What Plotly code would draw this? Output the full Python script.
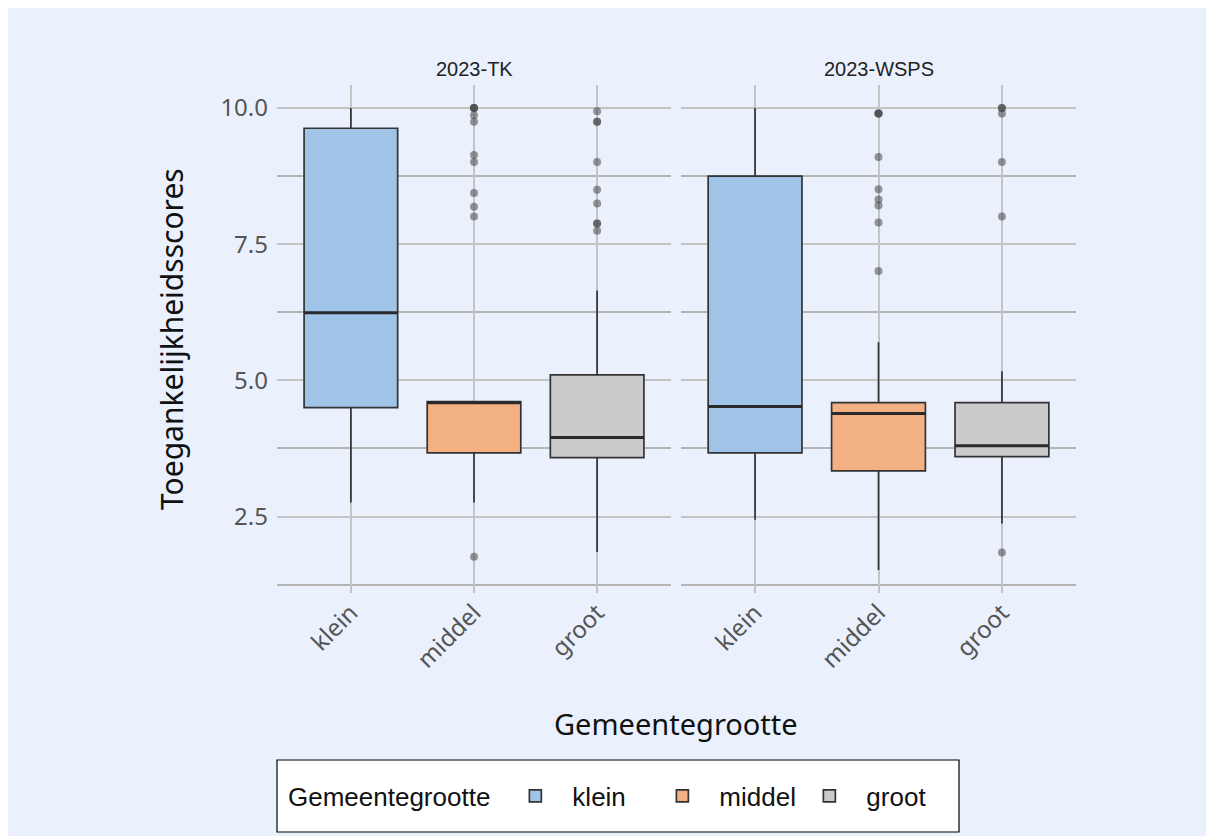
import plotly.graph_objects as go

categories = ["klein", "middel", "groot"]
facets = ["2023-TK", "2023-WSPS"]

# 2023-TK box statistics (klein, middel, groot)
tk_lowerfence = [2.76, 2.76, 1.85]
tk_q1 = [4.50, 3.67, 3.58]
tk_median = [6.24, 4.59, 3.95]
tk_q3 = [9.63, 4.61, 5.10]
tk_upperfence = [10.0, 4.62, 6.65]
tk_out_klein = []
tk_out_middel = [10.0, 10.0, 10.0, 9.87, 9.75, 9.14, 9.01, 8.44, 8.19, 8.01, 1.76]
tk_out_groot = [9.94, 9.75, 9.75, 9.01, 8.50, 8.25, 7.88, 7.88, 7.75]

# 2023-WSPS box statistics (klein, middel, groot)
wsps_lowerfence = [2.44, 1.52, 2.37]
wsps_q1 = [3.67, 3.34, 3.60]
wsps_median = [4.52, 4.39, 3.80]
wsps_q3 = [8.75, 4.59, 4.59]
wsps_upperfence = [10.0, 5.70, 5.17]
wsps_out_klein = []
wsps_out_middel = [9.90, 9.90, 9.90, 9.10, 8.51, 8.32, 8.21, 7.90, 7.01]
wsps_out_groot = [10.0, 10.0, 9.90, 9.01, 8.01, 1.84]

y_ticks = [2.5, 5.0, 7.5, 10.0]
y_tick_labels = ["2.5", "5.0", "7.5", "10.0"]
y_minor = [1.25, 3.75, 6.25, 8.75]

fills = ["#9FC4E8", "#F3B083", "#CBCBCB"]
bg = "#EAF1FD"
font_main = "Noto Sans"

stats = [
    (tk_lowerfence, tk_q1, tk_median, tk_q3, tk_upperfence, [tk_out_klein, tk_out_middel, tk_out_groot]),
    (wsps_lowerfence, wsps_q1, wsps_median, wsps_q3, wsps_upperfence, [wsps_out_klein, wsps_out_middel, wsps_out_groot]),
]

fig = go.Figure()
for f, (lf, q1, med, q3, uf, outs) in enumerate(stats):
    xa = "x" if f == 0 else "x2"
    for i, cat in enumerate(categories):
        fig.add_trace(go.Box(
            x=[cat], q1=[q1[i]], median=[med[i]], q3=[q3[i]],
            lowerfence=[lf[i]], upperfence=[uf[i]],
            name=cat, legendgroup=cat, showlegend=(f == 0),
            fillcolor=fills[i], line=dict(color="#333333", width=1.7),
            whiskerwidth=0, boxpoints=False, width=0.76, xaxis=xa, yaxis="y",
            hoverinfo="skip",
        ))
        # thicker median line
        fig.add_trace(go.Box(
            x=[cat], q1=[med[i]], median=[med[i]], q3=[med[i]],
            lowerfence=[med[i]], upperfence=[med[i]],
            name=cat, legendgroup=cat, showlegend=False,
            fillcolor="rgba(0,0,0,0)", line=dict(color="#2a2a2a", width=3),
            whiskerwidth=0, boxpoints=False, width=0.76, xaxis=xa, yaxis="y",
            hoverinfo="skip",
        ))
        if outs[i]:
            fig.add_trace(go.Scatter(
                x=[cat] * len(outs[i]), y=outs[i], mode="markers",
                marker=dict(color="rgba(70,70,70,0.55)", size=8),
                showlegend=False, xaxis=xa, yaxis="y", hoverinfo="skip",
            ))

W, H = 1214, 836
L, R, T, B = 269, 1068, 77, 585
pw, ph = R - L, B - T
d1 = (663 - L) / pw
d2 = (673 - L) / pw


def px_x(p):
    return (p - L) / pw


def px_y(p):
    return (B - p) / ph


xcommon = dict(
    type="category", categoryorder="array", categoryarray=categories,
    range=[-0.6, 2.6], showgrid=True, gridcolor="#C4C4C4", gridwidth=1.5,
    zeroline=False, showline=False, tickangle=-45, ticks="",
    tickfont=dict(family=font_main, size=24, color="#555555"),
)
fig.update_layout(
    width=W, height=H,
    margin=dict(l=L, r=W - R, t=T, b=H - B),
    paper_bgcolor=bg, plot_bgcolor=bg,
    boxmode="overlay",
    xaxis=dict(domain=[0, d1], anchor="y", **xcommon),
    xaxis2=dict(domain=[d2, 1], anchor="y", **xcommon),
    yaxis=dict(
        range=[1.096, 10.424], tickvals=y_ticks, ticktext=y_tick_labels,
        showgrid=True, gridcolor="#C4C4C4", gridwidth=1.5, zeroline=False,
        showline=False, ticks="", ticklabelstandoff=8,
        tickfont=dict(family=font_main, size=24, color="#555555"),
        minor=dict(tickvals=y_minor, showgrid=True, gridcolor="#B4B4B4", gridwidth=1.5),
    ),
    showlegend=True,
    legend=dict(
        orientation="h", x=px_x(278), xanchor="left",
        y=px_y(788), yanchor="middle",
        bgcolor="rgba(0,0,0,0)", borderwidth=0,
        itemwidth=64, entrywidth=68, entrywidthmode="pixels",
        font=dict(family="Liberation Sans", size=26, color="#111111"),
        title=dict(text="Gemeentegrootte", font=dict(family="Liberation Sans", size=26, color="#111111")),
    ),
    font=dict(family=font_main),
)

# legend frame
fig.add_shape(type="rect", xref="paper", yref="paper",
              x0=px_x(269), x1=px_x(951), y0=px_y(824), y1=px_y(752),
              fillcolor="white", line=dict(color="black", width=1.2), layer="below")

# facet strip titles
for k, name in enumerate(facets):
    xc = d1 / 2 if k == 0 else (d2 + 1) / 2
    fig.add_annotation(text=name, x=xc, y=px_y(61), xref="paper", yref="paper",
                       xanchor="center", yanchor="middle", showarrow=False,
                       font=dict(family="Liberation Sans", size=20, color="#222222"))

fig.add_annotation(text="Toegankelijkheidsscores", x=px_x(163), y=px_y(331),
                   xref="paper", yref="paper", textangle=-90, showarrow=False,
                   xanchor="center", yanchor="middle",
                   font=dict(family=font_main, size=30, color="#111111"))
fig.add_annotation(text="Gemeentegrootte", x=px_x(668), y=px_y(715),
                   xref="paper", yref="paper", showarrow=False,
                   xanchor="center", yanchor="middle",
                   font=dict(family=font_main, size=29, color="#111111"))

fig.write_html("out.html")
